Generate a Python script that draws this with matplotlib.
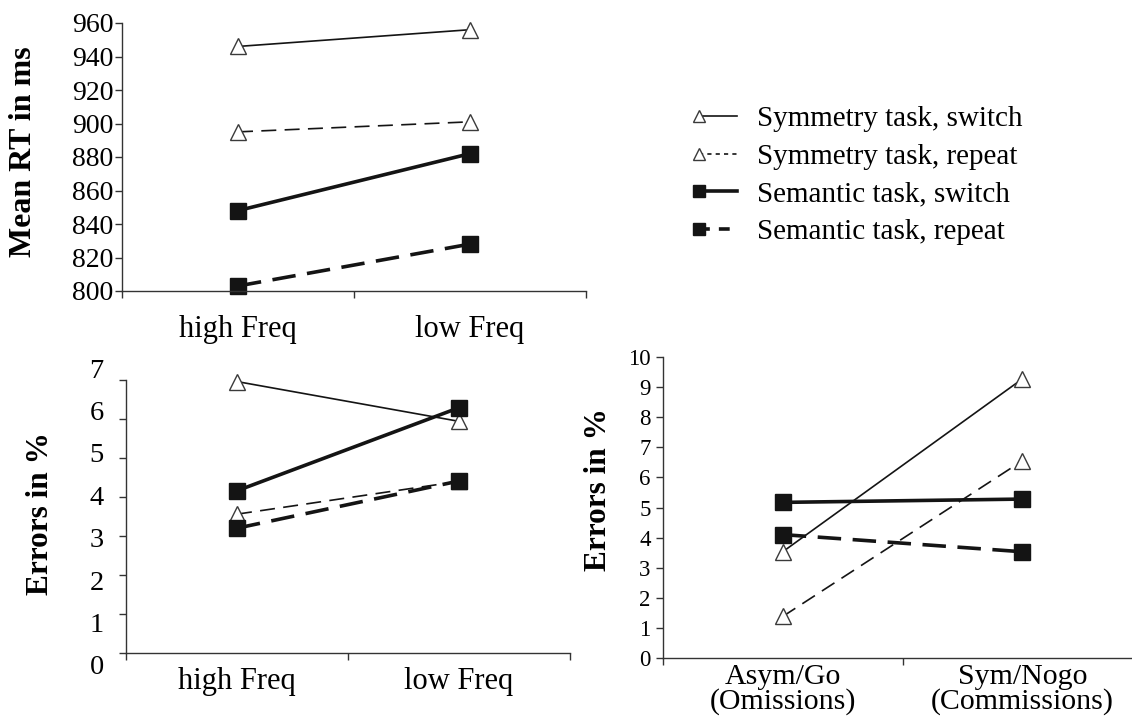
import matplotlib
matplotlib.use("Agg")
import matplotlib.pyplot as plt
import matplotlib.transforms as mtransforms
from matplotlib.lines import Line2D

plt.rcParams['font.family'] = ['Liberation Serif', 'DejaVu Serif']

freq_labels = ["high Freq", "low Freq"]
nogo_labels = ["Asym/Go\n(Omissions)", "Sym/Nogo\n(Commissions)"]
series_names = ["Symmetry task, switch", "Symmetry task, repeat",
                "Semantic task, switch", "Semantic task, repeat"]

rt_sym_switch = [946, 956]
rt_sym_repeat = [895, 901]
rt_sem_switch = [848, 882]
rt_sem_repeat = [803, 828]

err_sym_switch = [6.96, 5.94]
err_sym_repeat = [3.56, 4.4]
err_sem_switch = [4.16, 6.29]
err_sem_repeat = [3.2, 4.41]

ng_sym_switch = [3.53, 9.27]
ng_sym_repeat = [1.38, 6.55]
ng_sem_switch = [5.17, 5.28]
ng_sem_repeat = [4.1, 3.53]

INK = '#141414'
styles = [
    dict(marker='^', mfc='white', mec='#3a3a3a', color=INK, lw=1.2, ls='-', ms=11, mew=1.0),
    dict(marker='^', mfc='white', mec='#3a3a3a', color=INK, lw=1.2, ls=(0, (9, 5)), ms=11, mew=1.0),
    dict(marker='s', mfc=INK, mec=INK, color=INK, lw=2.6, ls='-', ms=11),
    dict(marker='s', mfc=INK, mec=INK, color=INK, lw=2.6, ls=(0, (6.5, 3.2)), ms=11),
]

W, H = 1132, 725
fig = plt.figure(figsize=(W / 100, H / 100), dpi=100)

def px_axes(l, r, t, b):
    return fig.add_axes([l / W, 1 - b / H, (r - l) / W, (b - t) / H])

def style_ax(ax, cats, ylim, yticks, tick_fs, ypad, xl_fs, xpad, ylabel, ylab_fs, lab_xy):
    ax.set_xlim(0, 2)
    ax.set_ylim(*ylim)
    ax.set_yticks(yticks)
    ax.set_yticklabels([str(v) for v in yticks], fontsize=tick_fs)
    ax.set_xticks([0, 1, 2])
    ax.set_xticklabels([])
    ax.set_xticks([0.5, 1.5], minor=True)
    ax.set_xticklabels(cats, minor=True, fontsize=xl_fs)
    ax.tick_params(axis='x', which='minor', length=0, pad=xpad)
    ax.tick_params(axis='x', which='major', length=5, width=1, direction='out', color='#333333')
    ax.tick_params(axis='y', length=5, width=1, direction='out', pad=ypad, color='#333333')
    for s in ['top', 'right']:
        ax.spines[s].set_visible(False)
    for s in ['left', 'bottom']:
        ax.spines[s].set_linewidth(1.0)
        ax.spines[s].set_color('#333333')
    ax.set_ylabel(ylabel, fontsize=ylab_fs, fontweight='bold')
    ax.yaxis.set_label_coords(*lab_xy)
    ax.patch.set_alpha(0)

xs = [0.5, 1.5]

ax1 = px_axes(122, 586, 23, 291)
for vals, st in zip([rt_sym_switch, rt_sym_repeat, rt_sem_switch, rt_sem_repeat], styles):
    ax1.plot(xs, vals, clip_on=False, **st)
style_ax(ax1, freq_labels, (800, 960), list(range(800, 961, 20)), 20, 1, 22, 17,
         "Mean RT in ms", 23, (-0.181, 0.52))

ax2 = px_axes(126, 570, 380, 653)
for vals, st in zip([err_sym_switch, err_sym_repeat, err_sem_switch, err_sem_repeat], styles):
    ax2.plot(xs, vals, clip_on=False, **st)
style_ax(ax2, freq_labels, (0, 7), list(range(0, 8)), 20.5, 11, 22, 10,
         "Errors in %", 22.5, (-0.16, 0.51))
# the printed tick numbers in this panel sit on a slightly wider spacing than the ticks
for v, lab in zip(range(0, 8), ax2.get_yticklabels()):
    dy = (v - 3.5) * 2.4 / 72.0
    lab.set_transform(lab.get_transform() +
                      mtransforms.ScaledTranslation(0, dy, fig.dpi_scale_trans))

ax3 = px_axes(663, 1142, 357, 658)
for vals, st in zip([ng_sym_switch, ng_sym_repeat, ng_sem_switch, ng_sem_repeat], styles):
    ax3.plot(xs, vals, clip_on=False, **st)
style_ax(ax3, nogo_labels, (0, 10), list(range(0, 11)), 16.5, 4, 21.5, 4,
         "Errors in %", 22.5, (-0.104, 0.558))
for lab in ax3.get_xticklabels(minor=True):
    lab.set_linespacing(0.95)

handles = []
for st in styles:
    s = dict(st)
    s['ms'] = s['ms'] * 0.8
    if s['marker'] == '^' and s['ls'] != '-':
        s['ls'] = (0, (2.5, 2.5))
    elif s['ls'] != '-':
        s['ls'] = (0, (3, 2.5))
    handles.append(Line2D([], [], **s))
leg = fig.legend(handles, series_names, loc='upper left',
                 bbox_to_anchor=(690 / W, 1 - 106 / H), frameon=False,
                 fontsize=21, handlelength=1.9, handletextpad=0.4,
                 labelspacing=0.38, borderpad=0, borderaxespad=0,
                 markerfirst=True, numpoints=2)
for h in leg.legend_handles:
    h.set_markevery([0])

fig.savefig("out.png", dpi=100)
